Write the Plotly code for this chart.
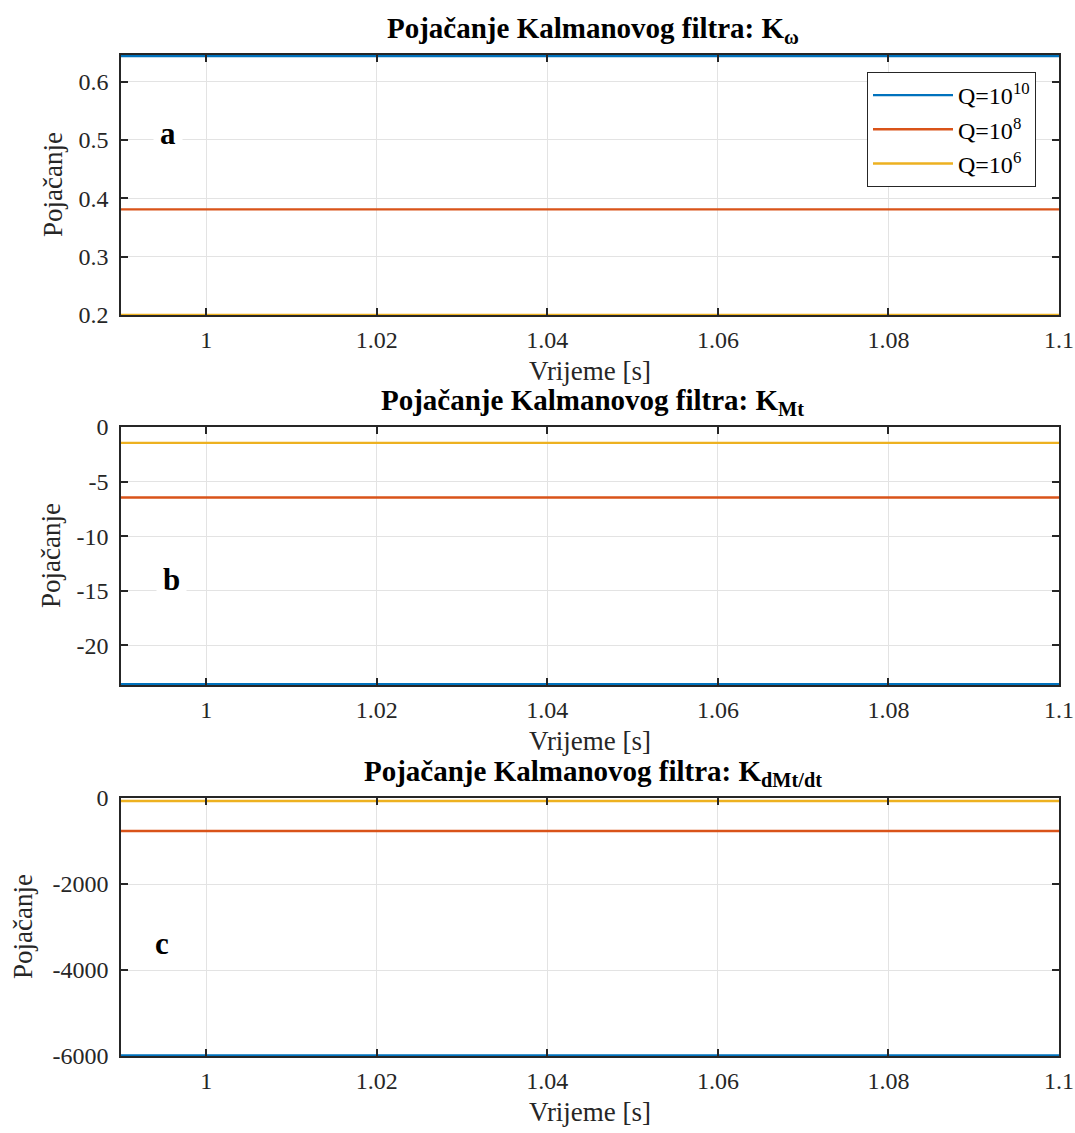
import plotly.graph_objects as go

# Time span of the simulation window [s]
t = [0.99, 1.1]

# Steady-state Kalman gains for three process-noise settings
series_names = ["Q=10<sup>10</sup>", "Q=10<sup>8</sup>", "Q=10<sup>6</sup>"]
series_colors = ["#0072BD", "#D95319", "#EDB120"]

k_omega = [0.644, 0.381, 0.2]
k_mt = [-23.55, -6.45, -1.45]
k_dmt = [-5985, -767, -70]

x_ticks = [1, 1.02, 1.04, 1.06, 1.08, 1.1]
x_ticklabels = ["1", "1.02", "1.04", "1.06", "1.08", "1.1"]

y_ticks_a = [0.2, 0.3, 0.4, 0.5, 0.6]
y_labels_a = ["0.2", "0.3", "0.4", "0.5", "0.6"]
y_ticks_b = [-20, -15, -10, -5, 0]
y_labels_b = ["-20", "-15", "-10", "-5", "0"]
y_ticks_c = [-6000, -4000, -2000, 0]
y_labels_c = ["-6000", "-4000", "-2000", "0"]

titles = [
    "Pojačanje Kalmanovog filtra: K<sub>ω</sub>",
    "Pojačanje Kalmanovog filtra: K<sub>Mt</sub>",
    "Pojačanje Kalmanovog filtra: K<sub>dMt/dt</sub>",
]
panel_letters = ["a", "b", "c"]

FONT = "Liberation Serif"
W, H = 1075, 1133

# pixel geometry of the three plot boxes (top, bottom)
x_left, x_right = 121, 1059
boxes = [(55, 315), (427, 685), (798, 1056)]
y_ranges = [[0.2, 0.6456], [-23.62, 0], [-6000, 0]]
y_tick_sets = [(y_ticks_a, y_labels_a), (y_ticks_b, y_labels_b), (y_ticks_c, y_labels_c)]
gain_sets = [k_omega, k_mt, k_dmt]
ytitle_x = [53, 51, 23]

fig = go.Figure()

for i, gains in enumerate(gain_sets):
    xa = "x" if i == 0 else f"x{i+1}"
    ya = "y" if i == 0 else f"y{i+1}"
    for name, color, g in zip(series_names, series_colors, gains):
        fig.add_trace(go.Scatter(
            x=t, y=[g, g], mode="lines", name=name,
            line=dict(color=color, width=2.4),
            xaxis=xa, yaxis=ya, showlegend=(i == 0),
        ))

axis_common = dict(
    showline=True, linecolor="#262626", linewidth=1.6, mirror="ticks",
    ticks="inside", ticklen=7, tickwidth=1.6, tickcolor="#262626",
    showgrid=True, gridcolor="#e3e3e3", gridwidth=1, zeroline=False,
    tickfont=dict(family=FONT, size=24, color="#262626"),
    automargin=False,
)

layout = dict(
    width=W, height=H, margin=dict(l=0, r=0, t=0, b=0, autoexpand=False),
    paper_bgcolor="white", plot_bgcolor="white",
    font=dict(family=FONT, color="#262626"),
    legend=dict(
        x=1036 / W, xanchor="right", y=1 - 72 / H, yanchor="top",
        bgcolor="white", bordercolor="#262626", borderwidth=1,
        font=dict(family=FONT, size=24, color="#000000"),
        tracegroupgap=2, itemwidth=80,
    ),
    annotations=[],
)

for i in range(3):
    top, bot = boxes[i]
    sx = "" if i == 0 else str(i + 1)
    tv, tt = y_tick_sets[i]
    layout[f"xaxis{sx}"] = dict(
        axis_common,
        domain=[x_left / W, x_right / W], range=[0.99, 1.1],
        tickvals=x_ticks, ticktext=x_ticklabels,
        anchor=f"y{sx}", ticklabelstandoff=2,
    )
    layout[f"yaxis{sx}"] = dict(
        axis_common,
        domain=[1 - bot / H, 1 - top / H], range=y_ranges[i],
        tickvals=tv, ticktext=tt,
        anchor=f"x{sx}", ticklabelstandoff=6,
    )
    # x-axis title
    layout["annotations"].append(dict(
        text="Vrijeme [s]", xref="paper", yref="paper",
        x=590 / W, y=1 - (bot + 56) / H, xanchor="center", yanchor="middle",
        showarrow=False, font=dict(family=FONT, size=27, color="#262626"),
    ))
    # y-axis title
    layout["annotations"].append(dict(
        text="Pojačanje", xref="paper", yref="paper", textangle=-90,
        x=ytitle_x[i] / W, y=1 - (top + bot) / 2 / H, xanchor="center", yanchor="middle",
        showarrow=False, font=dict(family=FONT, size=27, color="#262626"),
    ))
    # panel title
    layout["annotations"].append(dict(
        text=f"<b>{titles[i]}</b>", xref="paper", yref="paper",
        x=593 / W, y=1 - (top - 5) / H, xanchor="center", yanchor="bottom",
        showarrow=False, font=dict(family=FONT, size=29, color="#000000"),
    ))

# panel letters sitting on white patches over the grid
letter_pos = [(168, 133), (171, 579), (162, 943)]
for i, (lx, ly) in enumerate(letter_pos):
    layout["annotations"].append(dict(
        text=f"<b>{panel_letters[i]}</b>", xref="paper", yref="paper",
        x=lx / W, y=1 - ly / H, xanchor="center", yanchor="middle",
        showarrow=False, bgcolor="white", borderpad=6,
        font=dict(family=FONT, size=31, color="#000000"),
    ))

fig.update_layout(**layout)
fig.write_html("out.html")
